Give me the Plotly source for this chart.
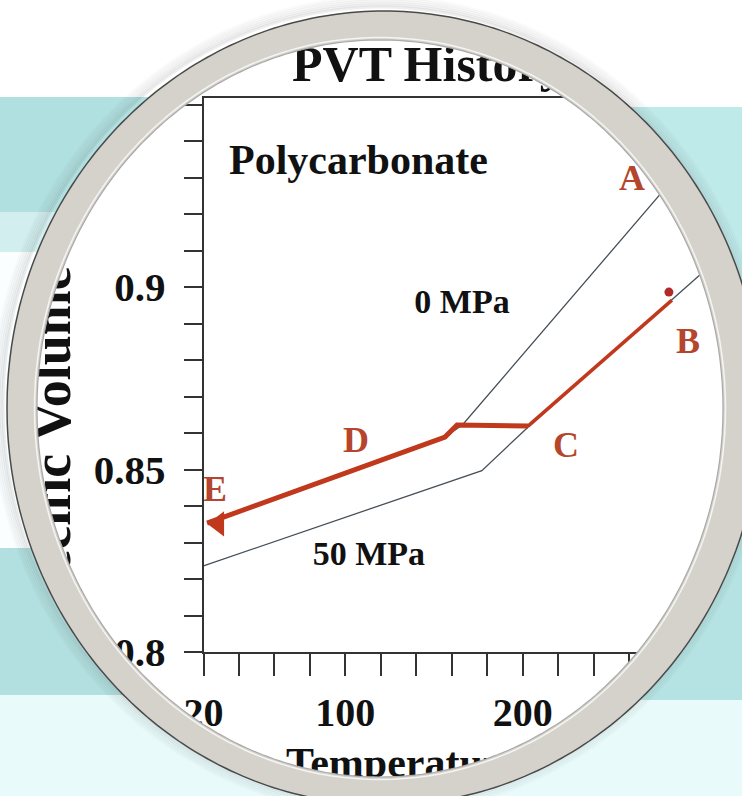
import numpy as np
import plotly.graph_objects as go

W, H = 742, 796

# ---------------- data ----------------
temp_50mpa = [20, 177, 203, 312]
vol_50mpa = [0.8236, 0.8497, 0.8616, 0.9085]

temp_0mpa = [22, 156.2, 166, 300]
vol_0mpa = [0.8353, 0.8589, 0.8622, 0.9381]

# processing history A-B-C-D-E (red): cooling in the melt, then glassy part
temp_history_melt = [284.2, 203.0]
vol_history_melt = [0.8964, 0.8619]
temp_history_glass = [203.0, 163.0, 156.2, 22.0]
vol_history_glass = [0.8619, 0.8622, 0.8589, 0.8353]

point_labels = ["A", "B", "C", "D", "E"]
point_label_temp = [261.7, 293.3, 224.5, 106.0, 26.5]
point_label_vol = [0.9290, 0.8844, 0.8559, 0.8573, 0.8438]

curve_labels = ["0 MPa", "50 MPa"]
curve_label_temp = [165.8, 113.3]
curve_label_vol = [0.8953, 0.8263]

x_tickvals = list(range(20, 320, 20))
x_ticktext = ["20" if v == 20 else ("100" if v == 100 else ("200" if v == 200 else "")) for v in x_tickvals]
y_tickvals = [round(0.80 + 0.01 * i, 2) for i in range(16)]
y_ticktext = {0.8: "0.8", 0.85: "0.85", 0.9: "0.9"}
y_ticktext = [y_ticktext.get(v, "") for v in y_tickvals]

title_text = "PVT History"
x_title = "Temperature (°C)"
y_title = "Specific Volume"

SERIF = "Liberation Serif"
RED = "#c0391d"
THIN = "#46505a"

# ---------------- figure ----------------
fig = go.Figure()

fig.add_trace(go.Scatter(x=temp_50mpa, y=vol_50mpa, mode="lines",
                         line=dict(color=THIN, width=1.3), hoverinfo="skip", showlegend=False))
fig.add_trace(go.Scatter(x=temp_0mpa, y=vol_0mpa, mode="lines",
                         line=dict(color=THIN, width=1.3), hoverinfo="skip", showlegend=False))
fig.add_trace(go.Scatter(x=temp_history_melt, y=vol_history_melt, mode="lines",
                         line=dict(color=RED, width=3.5), hoverinfo="skip", showlegend=False))
fig.add_trace(go.Scatter(x=temp_history_glass, y=vol_history_glass, mode="lines",
                         line=dict(color=RED, width=5), hoverinfo="skip", showlegend=False))
# arrow head at E, dot near B
fig.add_trace(go.Scatter(x=[temp_history_glass[-1] + 6.5], y=[vol_history_glass[-1] - 0.0002], mode="markers",
                         marker=dict(symbol="triangle-left", size=22, color=RED),
                         cliponaxis=False, hoverinfo="skip", showlegend=False))
fig.add_trace(go.Scatter(x=[temp_history_melt[0] - 1.7], y=[vol_history_melt[0] + 0.0022], mode="markers",
                         marker=dict(symbol="circle", size=9, color="#b02a2a"),
                         cliponaxis=False, hoverinfo="skip", showlegend=False))

fig.add_trace(go.Scatter(x=point_label_temp, y=point_label_vol, mode="text", text=point_labels,
                         textposition="middle center",
                         textfont=dict(family=SERIF, size=36, color="#b5452c", weight="bold"),
                         cliponaxis=False, hoverinfo="skip", showlegend=False))
fig.add_trace(go.Scatter(x=curve_label_temp, y=curve_label_vol, mode="text", text=curve_labels,
                         textposition="middle center",
                         textfont=dict(family=SERIF, size=34, color="#111111", weight="bold"),
                         cliponaxis=False, hoverinfo="skip", showlegend=False))
fig.add_trace(go.Scatter(x=[34.4], y=[0.9338], mode="text", text=["Polycarbonate"],
                         textposition="middle right",
                         textfont=dict(family=SERIF, size=42, color="#111111", weight="bold"),
                         cliponaxis=False, hoverinfo="skip", showlegend=False))

# ---------- overlay pixel axes for decorative texts (so the lens covers them) ----------
fig.add_trace(go.Scatter(x=[292], y=[68], xaxis="x2", yaxis="y2", mode="text", text=[title_text],
                         textposition="middle right",
                         textfont=dict(family=SERIF, size=50, color="#111111", weight="bold"),
                         cliponaxis=False, hoverinfo="skip", showlegend=False))
fig.add_trace(go.Scatter(x=[286], y=[766], xaxis="x2", yaxis="y2", mode="text", text=[x_title],
                         textposition="middle right",
                         textfont=dict(family=SERIF, size=42, color="#111111", weight="bold"),
                         cliponaxis=False, hoverinfo="skip", showlegend=False))
fig.add_trace(go.Bar(x=[52], y=[374], base=[263], width=[4], xaxis="x2", yaxis="y2",
                     text=[y_title], textposition="inside", textangle=-90,
                     insidetextanchor="middle", constraintext="none",
                     insidetextfont=dict(family=SERIF, size=54, color="#111111", weight="bold"),
                     marker=dict(color="rgba(0,0,0,0)", line=dict(width=0)),
                     cliponaxis=False, hoverinfo="skip", showlegend=False))

# ---------------- lens / background shapes (pixel coords on x2/y2) ----------------
def ellipse_pts(cx, cy, a, b, n=360):
    t = np.linspace(0, 2 * np.pi, n, endpoint=False)
    return list(zip(cx + a * np.cos(t), cy + b * np.sin(t)))

def to_path(pts):
    return "M" + " L".join(f"{x:.1f},{y:.1f}" for x, y in pts) + " Z"

OCX, OCY, OA, OB = 384, 408, 377, 397      # outer edge of ring
ICX, ICY, IA, IB = 380, 408.5, 343, 368.5  # inner edge of ring
HA, HB = OA - 4, OB - 4                    # hole in the outside cover

def side_polygon(y0, y1, left=True, n=80):
    ys = np.linspace(y0, y1, n)
    xs = []
    for y in ys:
        r = (y - OCY) / HB
        d = HA * np.sqrt(1 - r * r) if abs(r) < 1 else 0.0
        xs.append(OCX - d if left else OCX + d)
    edge = -2 if left else W + 2
    return [(edge, y0)] + list(zip(xs, ys)) + [(edge, y1)]

bands_left = [(-2, 97, "#ffffff"), (97, 212, "#b1e0e0"), (212, 252, "#d2eeee"),
              (252, 548, "#fbfefe"), (548, 695, "#b2dfdf"), (695, 798, "#e9fafa")]
bands_right = [(-2, 107, "#ffffff"), (107, 300, "#bfeaea"), (300, 530, "#d8f2f2"),
               (530, 700, "#b5e2e2"), (700, 798, "#e9fafa")]

shapes = []
for y0, y1, c in bands_left:
    shapes.append(dict(type="path", path=to_path(side_polygon(y0, y1 + 0.5, True)),
                       xref="x2", yref="y2", fillcolor=c, line=dict(width=0), layer="above"))
for y0, y1, c in bands_right:
    shapes.append(dict(type="path", path=to_path(side_polygon(y0, y1 + 0.5, False)),
                       xref="x2", yref="y2", fillcolor=c, line=dict(width=0), layer="above"))

# soft shadow around the lens
for k, op in [(13, 0.025), (11, 0.035), (9, 0.045), (7, 0.06), (5, 0.075), (3, 0.09)]:
    shapes.append(dict(type="path", path=to_path(ellipse_pts(OCX - 3, OCY - 3, OA + k - 2, OB + k - 2)),
                       xref="x2", yref="y2", fillcolor="rgba(0,0,0,0)",
                       line=dict(color=f"rgba(70,70,70,{op})", width=3), layer="above"))

# ring
ring_path = to_path(ellipse_pts(OCX, OCY, OA, OB)) + " " + to_path(ellipse_pts(ICX, ICY, IA, IB))
shapes.append(dict(type="path", path=ring_path, xref="x2", yref="y2", fillcolor="#d4d2cb",
                   fillrule="evenodd", line=dict(width=0), layer="above"))
shapes.append(dict(type="path", path=to_path(ellipse_pts(OCX, OCY, OA, OB)), xref="x2", yref="y2",
                   fillcolor="rgba(0,0,0,0)", line=dict(color="#4a4a4a", width=1.5), layer="above"))
shapes.append(dict(type="path", path=to_path(ellipse_pts(ICX, ICY, IA, IB)), xref="x2", yref="y2",
                   fillcolor="rgba(0,0,0,0)", line=dict(color="#a9a9a9", width=1.2), layer="above"))
shapes.append(dict(type="path", path=to_path(ellipse_pts(ICX, ICY, IA + 2.5, IB + 2.5)), xref="x2", yref="y2",
                   fillcolor="rgba(0,0,0,0)", line=dict(color="#f4f4f2", width=1.5), layer="above"))

x0p, x1p = 203.5, 742.0
y_bot, y_top = 652.0, 98.0
fig.update_layout(
    width=W, height=H,
    margin=dict(l=0, r=0, t=0, b=0),
    paper_bgcolor="white", plot_bgcolor="rgba(0,0,0,0)",
    showlegend=False,
    shapes=shapes,
    xaxis=dict(domain=[x0p / W, x1p / W], range=[20, 20 + (x1p - x0p) / 1.773],
               tickmode="array", tickvals=x_tickvals, ticktext=x_ticktext,
               ticks="outside", ticklen=22, tickwidth=1.5, tickcolor="#333",
               showline=True, linecolor="#333", linewidth=1.6, mirror=True,
               showgrid=False, zeroline=False, automargin=False,
               tickfont=dict(family=SERIF, size=40, color="#111111", weight="bold"),
               ticklabelstandoff=2, anchor="y"),
    yaxis=dict(domain=[1 - y_bot / H, 1 - y_top / H], range=[0.8, 0.8 + (y_bot - y_top) / 3650],
               tickmode="array", tickvals=y_tickvals, ticktext=y_ticktext,
               ticks="outside", ticklen=18, tickwidth=1.5, tickcolor="#333",
               showline=True, linecolor="#333", linewidth=1.6, mirror=True,
               showgrid=False, zeroline=False, automargin=False,
               tickfont=dict(family=SERIF, size=41, color="#111111", weight="bold"),
               ticklabelstandoff=10, anchor="x"),
    xaxis2=dict(domain=[0, 1], range=[0, W], visible=False, anchor="y2", fixedrange=True),
    yaxis2=dict(domain=[0, 1], range=[H, 0], visible=False, anchor="x2", fixedrange=True),
)

fig.write_html("out.html", config={"displayModeBar": False},
               post_script="document.body.style.margin='0px';document.body.style.overflow='hidden';")
